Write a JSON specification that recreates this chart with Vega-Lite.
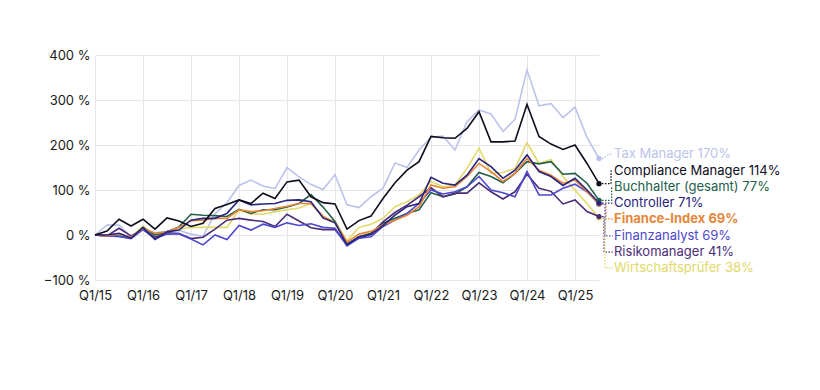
{
  "$schema": "https://vega.github.io/schema/vega-lite/v6.json",
  "width": 504,
  "height": 225,
  "autosize": {"type": "none"},
  "padding": {"left": 95, "top": 55, "right": 221, "bottom": 110},
  "background": "white",
  "config": {
    "view": {"stroke": null},
    "font": "Inter",
    "axis": {"labelFont": "Inter", "labelFontSize": 13, "labelColor": "#1a1a1a", "gridColor": "#e6e6e6", "gridWidth": 1, "domain": false, "ticks": false, "title": null, "labelOverlap": false, "labelFlush": false}
  },
  "datasets": {
    "series": [
      {"i":0,"tax":0,"comp":0,"buch":0,"ctrl":0,"fin":0,"ana":0,"risk":0,"wp":0},
      {"i":1,"tax":22,"comp":9,"buch":-2,"ctrl":0,"fin":-2,"ana":-2,"risk":-2,"wp":-2},
      {"i":2,"tax":22,"comp":35,"buch":-3,"ctrl":4,"fin":3,"ana":-3,"risk":15,"wp":-1},
      {"i":3,"tax":-4,"comp":20,"buch":-7,"ctrl":-7,"fin":-5,"ana":-8,"risk":-2,"wp":-5},
      {"i":4,"tax":12,"comp":35,"buch":16,"ctrl":17,"fin":15,"ana":12,"risk":12,"wp":20},
      {"i":5,"tax":5,"comp":13,"buch":0,"ctrl":-10,"fin":4,"ana":-8,"risk":-5,"wp":-2},
      {"i":6,"tax":8,"comp":38,"buch":7,"ctrl":7,"fin":7,"ana":2,"risk":5,"wp":7},
      {"i":7,"tax":10,"comp":31,"buch":18,"ctrl":11,"fin":17,"ana":3,"risk":3,"wp":13},
      {"i":8,"tax":2,"comp":19,"buch":46,"ctrl":33,"fin":32,"ana":-9,"risk":-8,"wp":17},
      {"i":9,"tax":-3,"comp":26,"buch":44,"ctrl":37,"fin":33,"ana":-22,"risk":-5,"wp":17},
      {"i":10,"tax":47,"comp":59,"buch":43,"ctrl":37,"fin":37,"ana":0,"risk":13,"wp":17},
      {"i":11,"tax":72,"comp":68,"buch":41,"ctrl":48,"fin":37,"ana":-10,"risk":33,"wp":17},
      {"i":12,"tax":110,"comp":78,"buch":57,"ctrl":78,"fin":56,"ana":21,"risk":37,"wp":55},
      {"i":13,"tax":122,"comp":70,"buch":48,"ctrl":67,"fin":52,"ana":11,"risk":33,"wp":47},
      {"i":14,"tax":109,"comp":93,"buch":56,"ctrl":69,"fin":54,"ana":24,"risk":30,"wp":46},
      {"i":15,"tax":103,"comp":81,"buch":56,"ctrl":70,"fin":59,"ana":17,"risk":19,"wp":52},
      {"i":16,"tax":150,"comp":118,"buch":62,"ctrl":77,"fin":64,"ana":27,"risk":46,"wp":56},
      {"i":17,"tax":129,"comp":122,"buch":70,"ctrl":78,"fin":70,"ana":21,"risk":31,"wp":60},
      {"i":18,"tax":112,"comp":85,"buch":90,"ctrl":74,"fin":70,"ana":25,"risk":16,"wp":70},
      {"i":19,"tax":101,"comp":72,"buch":62,"ctrl":38,"fin":42,"ana":17,"risk":12,"wp":40},
      {"i":20,"tax":134,"comp":69,"buch":30,"ctrl":27,"fin":27,"ana":15,"risk":12,"wp":30},
      {"i":21,"tax":67,"comp":13,"buch":-20,"ctrl":-22,"fin":-16,"ana":-24,"risk":-22,"wp":-13},
      {"i":22,"tax":61,"comp":32,"buch":-4,"ctrl":-4,"fin":2,"ana":-7,"risk":-7,"wp":17},
      {"i":23,"tax":85,"comp":42,"buch":4,"ctrl":1,"fin":8,"ana":-4,"risk":2,"wp":24},
      {"i":24,"tax":104,"comp":81,"buch":26,"ctrl":21,"fin":22,"ana":19,"risk":29,"wp":37},
      {"i":25,"tax":160,"comp":116,"buch":37,"ctrl":44,"fin":33,"ana":33,"risk":50,"wp":63},
      {"i":26,"tax":150,"comp":144,"buch":48,"ctrl":63,"fin":44,"ana":48,"risk":66,"wp":74},
      {"i":27,"tax":189,"comp":163,"buch":56,"ctrl":70,"fin":63,"ana":70,"risk":85,"wp":89},
      {"i":28,"tax":217,"comp":219,"buch":94,"ctrl":128,"fin":111,"ana":100,"risk":105,"wp":119},
      {"i":29,"tax":220,"comp":216,"buch":85,"ctrl":115,"fin":104,"ana":91,"risk":85,"wp":107},
      {"i":30,"tax":189,"comp":215,"buch":91,"ctrl":111,"fin":107,"ana":96,"risk":93,"wp":111},
      {"i":31,"tax":252,"comp":237,"buch":107,"ctrl":133,"fin":130,"ana":107,"risk":93,"wp":148},
      {"i":32,"tax":278,"comp":274,"buch":139,"ctrl":170,"fin":159,"ana":130,"risk":116,"wp":193},
      {"i":33,"tax":269,"comp":207,"buch":130,"ctrl":152,"fin":141,"ana":100,"risk":96,"wp":137},
      {"i":34,"tax":230,"comp":207,"buch":116,"ctrl":126,"fin":119,"ana":94,"risk":80,"wp":139},
      {"i":35,"tax":257,"comp":209,"buch":137,"ctrl":144,"fin":137,"ana":85,"risk":96,"wp":148},
      {"i":36,"tax":367,"comp":290,"buch":163,"ctrl":178,"fin":170,"ana":141,"risk":135,"wp":205},
      {"i":37,"tax":287,"comp":219,"buch":158,"ctrl":141,"fin":144,"ana":89,"risk":104,"wp":159},
      {"i":38,"tax":292,"comp":202,"buch":163,"ctrl":130,"fin":133,"ana":89,"risk":97,"wp":168},
      {"i":39,"tax":261,"comp":190,"buch":135,"ctrl":110,"fin":115,"ana":104,"risk":69,"wp":130},
      {"i":40,"tax":284,"comp":200,"buch":137,"ctrl":126,"fin":122,"ana":113,"risk":78,"wp":100},
      {"i":41,"tax":217,"comp":159,"buch":115,"ctrl":100,"fin":96,"ana":96,"risk":52,"wp":70},
      {"i":42,"tax":170,"comp":114,"buch":77,"ctrl":71,"fin":69,"ana":69,"risk":41,"wp":38}
    ],
    "labels": [
      {"key":"tax","label":"Tax Manager 170%","pos":180},
      {"key":"comp","label":"Compliance Manager 114%","pos":142},
      {"key":"buch","label":"Buchhalter (gesamt) 77%","pos":107},
      {"key":"ctrl","label":"Controller 71%","pos":71},
      {"key":"fin","label":"Finance-Index 69%","pos":36},
      {"key":"ana","label":"Finanzanalyst 69%","pos":-2},
      {"key":"risk","label":"Risikomanager 41%","pos":-38},
      {"key":"wp","label":"Wirtschaftsprüfer 38%","pos":-73}
    ],
    "conn": [
      {"key":"tax","o":0,"cx":42,"cv":170},{"key":"tax","o":1,"cx":42.33,"cv":170},{"key":"tax","o":2,"cx":42.9,"cv":180},{"key":"tax","o":3,"cx":43.15,"cv":180},
      {"key":"comp","o":0,"cx":42,"cv":114},{"key":"comp","o":1,"cx":43.0,"cv":114},{"key":"comp","o":2,"cx":43.0,"cv":142},{"key":"comp","o":3,"cx":43.15,"cv":142},
      {"key":"buch","o":0,"cx":42,"cv":77},{"key":"buch","o":1,"cx":43.05,"cv":77},{"key":"buch","o":2,"cx":43.05,"cv":107},{"key":"buch","o":3,"cx":43.15,"cv":107},
      {"key":"ctrl","o":0,"cx":42,"cv":71},{"key":"ctrl","o":1,"cx":43.15,"cv":71},
      {"key":"fin","o":0,"cx":42,"cv":69},{"key":"fin","o":1,"cx":42.58,"cv":69},{"key":"fin","o":2,"cx":42.58,"cv":36},{"key":"fin","o":3,"cx":43.15,"cv":36},
      {"key":"ana","o":0,"cx":42,"cv":69},{"key":"ana","o":1,"cx":42.5,"cv":69},{"key":"ana","o":2,"cx":42.5,"cv":-2},{"key":"ana","o":3,"cx":43.15,"cv":-2},
      {"key":"risk","o":0,"cx":42,"cv":41},{"key":"risk","o":1,"cx":42.42,"cv":41},{"key":"risk","o":2,"cx":42.42,"cv":-38},{"key":"risk","o":3,"cx":43.15,"cv":-38},
      {"key":"wp","o":0,"cx":42,"cv":38},{"key":"wp","o":1,"cx":42.5,"cv":38},{"key":"wp","o":2,"cx":42.5,"cv":-73},{"key":"wp","o":3,"cx":43.15,"cv":-73}
    ]
  },
  "layer": [
    {
      "data": {"name": "series"},
      "transform": [{"fold": ["tax","wp","buch","risk","ana","fin","ctrl","comp"], "as": ["key","v"]}],
      "mark": {"type": "line", "strokeWidth": 1.6, "strokeJoin": "miter"},
      "encoding": {
        "x": {"field": "i", "type": "quantitative", "scale": {"domain": [0, 42], "nice": false, "zero": false},
              "axis": {"values": [0,4,8,12,16,20,24,28,32,36,40], "labelExpr": "'Q1/' + (15 + datum.value / 4)", "grid": true, "labelPadding": 9}},
        "y": {"field": "v", "type": "quantitative", "scale": {"domain": [-100, 400], "nice": false},
              "axis": {"values": [-100,0,100,200,300,400], "labelExpr": "format(datum.value, 'd') + ' %'", "grid": true, "labelPadding": 5}},
        "color": {"field": "key", "type": "nominal", "legend": null,
                  "scale": {"domain": ["tax","wp","buch","risk","ana","fin","ctrl","comp"], "range": ["#bcc3ea","#e2d96a","#22604a","#4b2d78","#4e48cc","#e5863a","#28247e","#0d0d1c"]}}
      }
    },
    {
      "data": {"name": "conn"},
      "mark": {"type": "line", "strokeWidth": 1.3, "strokeDash": [1.5, 1.5]},
      "encoding": {
        "x": {"field": "cx", "type": "quantitative"},
        "y": {"field": "cv", "type": "quantitative"},
        "detail": {"field": "key"},
        "order": {"field": "o", "type": "quantitative"},
        "color": {"field": "key", "type": "nominal", "legend": null}
      }
    },
    {
      "data": {"name": "series"},
      "transform": [{"filter": "datum.i === 42"}, {"fold": ["tax","wp","buch","risk","ana","fin","ctrl","comp"], "as": ["key","v"]}],
      "mark": {"type": "point", "shape": "circle", "filled": true, "size": 28, "opacity": 1},
      "encoding": {
        "x": {"field": "i", "type": "quantitative"},
        "y": {"field": "v", "type": "quantitative"},
        "color": {"field": "key", "type": "nominal", "legend": null}
      }
    },
    {
      "data": {"name": "labels"},
      "transform": [{"filter": "datum.key !== 'fin'"}],
      "mark": {"type": "text", "align": "left", "baseline": "middle", "font": "Inter", "fontSize": 13},
      "encoding": {
        "x": {"datum": 43.25, "type": "quantitative"},
        "y": {"field": "pos", "type": "quantitative"},
        "text": {"field": "label"},
        "color": {"field": "key", "type": "nominal", "legend": null}
      }
    },
    {
      "data": {"name": "labels"},
      "transform": [{"filter": "datum.key === 'fin'"}],
      "mark": {"type": "text", "align": "left", "baseline": "middle", "font": "Inter", "fontSize": 13, "fontWeight": "bold"},
      "encoding": {
        "x": {"datum": 43.25, "type": "quantitative"},
        "y": {"field": "pos", "type": "quantitative"},
        "text": {"field": "label"},
        "color": {"field": "key", "type": "nominal", "legend": null}
      }
    }
  ]
}
